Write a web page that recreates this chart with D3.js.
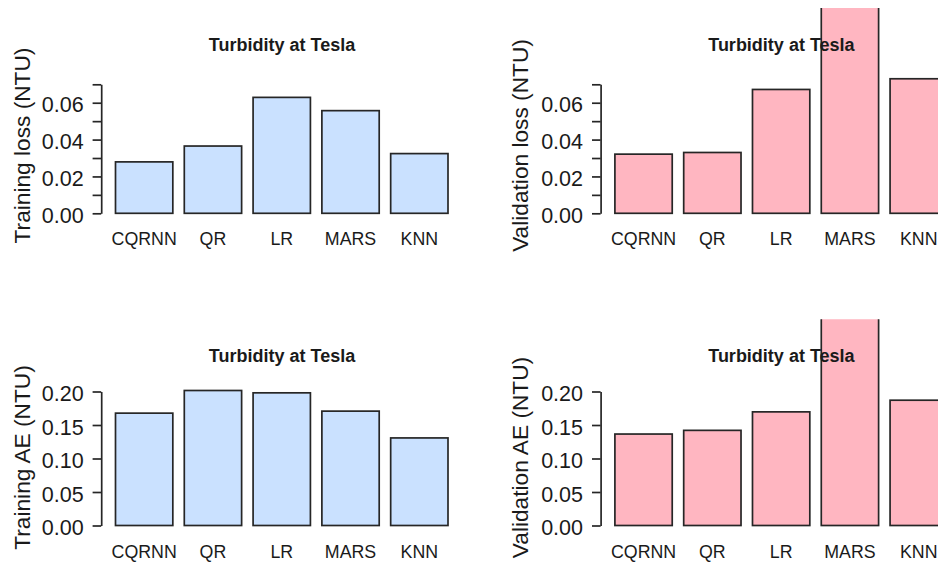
<!DOCTYPE html>
<html>
<head>
<meta charset="utf-8">
<script src="https://cdn.jsdelivr.net/npm/d3@7"></script>
<style>
  html, body { margin: 0; padding: 0; background: #fff; }
  svg { display: block; }
  text { font-family: "Liberation Sans", Arial, sans-serif; fill: #1a1a1a; }
</style>
</head>
<body>
<svg id="chart" width="938" height="563"></svg>
<script>
// ---- data ----
const categories = ["CQRNN", "QR", "LR", "MARS", "KNN"];
const trainingLoss = [0.0279, 0.0365, 0.0629, 0.0557, 0.0324];
const validationLoss = [0.0321, 0.0330, 0.0672, 0.1200, 0.0730];
const trainingAE = [0.1677, 0.2015, 0.1980, 0.1707, 0.1307];
const validationAE = [0.1365, 0.1420, 0.1696, 0.3200, 0.1870];
const lossTicks = [0, 0.01, 0.02, 0.03, 0.04, 0.05, 0.06, 0.07];
const lossTickLabels = ["0.00", "", "0.02", "", "0.04", "", "0.06", ""];
const aeTicks = [0, 0.05, 0.10, 0.15, 0.20];
const aeTickLabels = ["0.00", "0.05", "0.10", "0.15", "0.20"];
const title = "Turbidity at Tesla";

// ---- layout ----
const svg = d3.select("#chart");
const colOffset = 499.4;
const rows = [
  { y0: 213.3, yTop: 84.3, figTop: 8, titleY: 50.5, labelY: 245, ylabY: 145.5 },
  { y0: 525.5, yTop: 391.5, figTop: 319.3, titleY: 362, labelY: 557.5, ylabY: 457.5 }
];
const panels = [
  { row: 0, col: 0, values: trainingLoss, fill: "#cae1ff", ylab: "Training loss (NTU)", ticks: lossTicks, labels: lossTickLabels, max: 0.07 },
  { row: 0, col: 1, values: validationLoss, fill: "#ffb6c1", ylab: "Validation loss (NTU)", ticks: lossTicks, labels: lossTickLabels, max: 0.07 },
  { row: 1, col: 0, values: trainingAE, fill: "#cae1ff", ylab: "Training AE (NTU)", ticks: aeTicks, labels: aeTickLabels, max: 0.20 },
  { row: 1, col: 1, values: validationAE, fill: "#ffb6c1", ylab: "Validation AE (NTU)", ticks: aeTicks, labels: aeTickLabels, max: 0.20 }
];

const ink = "#262626";
const defs = svg.append("defs");

panels.forEach((p, i) => {
  const r = rows[p.row];
  const dx = p.col * colOffset;
  const axisX = 101.2 + dx;

  const x = d3.scaleBand()
    .domain(categories)
    .range([115.5 + dx, 448 + dx])
    .paddingInner(0.1667)
    .paddingOuter(0);

  const y = d3.scaleLinear().domain([0, p.max]).range([r.y0, r.yTop]);

  const clipId = "clip" + i;
  defs.append("clipPath").attr("id", clipId)
    .append("rect")
    .attr("x", dx - 10).attr("y", r.figTop)
    .attr("width", colOffset + 10).attr("height", 320);

  const g = svg.append("g").attr("clip-path", `url(#${clipId})`);

  // bars
  g.selectAll("rect.bar")
    .data(p.values)
    .join("rect")
    .attr("class", "bar")
    .attr("x", (d, j) => x(categories[j]))
    .attr("width", x.bandwidth())
    .attr("y", d => y(d))
    .attr("height", d => y(0) - y(d))
    .attr("fill", p.fill)
    .attr("stroke", ink)
    .attr("stroke-width", 1.7);

  // y axis
  const yAxis = d3.axisLeft(y)
    .tickValues(p.ticks)
    .tickSize(8.6)
    .tickSizeOuter(0)
    .tickPadding(9)
    .tickFormat((d, k) => p.labels[k]);
  const ax = svg.append("g")
    .attr("transform", `translate(${axisX},0)`)
    .call(yAxis);
  ax.select(".domain").attr("stroke", ink).attr("stroke-width", 1.7);
  ax.selectAll(".tick line").attr("stroke", ink).attr("stroke-width", 1.7);
  ax.selectAll(".tick text")
    .attr("font-size", 21.5)
    .attr("dy", "0.42em")
    .attr("font-family", "Liberation Sans, Arial, sans-serif")
    .attr("fill", "#1a1a1a");

  // category labels
  svg.append("g").selectAll("text.cat")
    .data(categories)
    .join("text")
    .attr("class", "cat")
    .attr("x", d => x(d) + x.bandwidth() / 2)
    .attr("y", r.labelY)
    .attr("text-anchor", "middle")
    .attr("font-size", 17.8)
    .text(d => d);

  // y label
  svg.append("text")
    .attr("transform", `translate(${30 + p.col * 497.7},${r.ylabY}) rotate(-90)`)
    .attr("text-anchor", "middle")
    .attr("font-size", 22.7)
    .text(p.ylab);

  // title (drawn over bars)
  svg.append("text")
    .attr("x", 282 + dx)
    .attr("y", r.titleY)
    .attr("text-anchor", "middle")
    .attr("font-size", 18)
    .attr("font-weight", "bold")
    .attr("fill", "#111")
    .text(title);
});
</script>
</body>
</html>
